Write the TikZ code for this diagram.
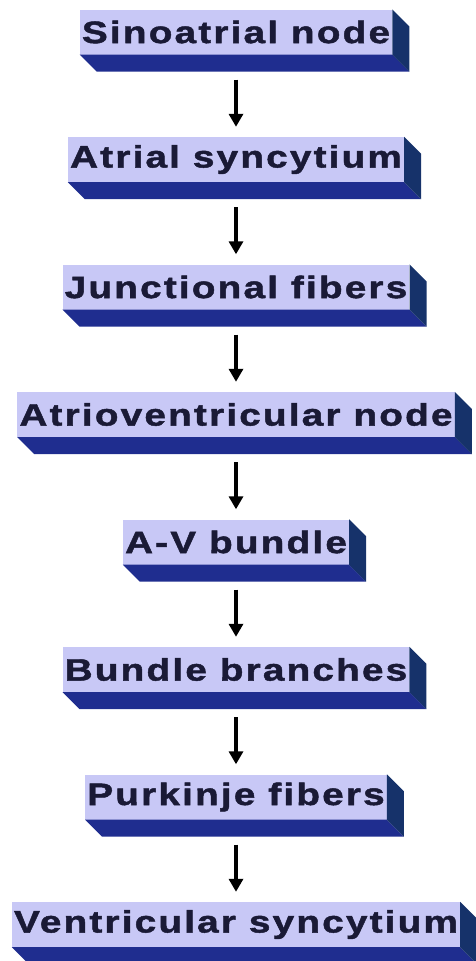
\documentclass[tikz,border=0pt]{standalone}
\usepackage{fontspec}
\setmainfont{Liberation Sans}
\newfontfamily\boxfont[FakeStretch=1.25,LetterSpace=7,FakeBold=1.5]{Liberation Sans Bold}
\usetikzlibrary{arrows.meta,calc}
\definecolor{faceblue}{HTML}{C8C8F6}
\definecolor{floorblue}{HTML}{1F2D8F}
\definecolor{wallblue}{HTML}{16326A}
\definecolor{inkblue}{HTML}{1A1A36}
\begin{document}
		\begin{tikzpicture}[x=1pt, y=-1pt,
			stage/.style={fill=faceblue, text=inkblue, font=\boxfont\fontsize{31}{31}\selectfont,
				minimum height=45pt, inner xsep=2pt, inner ysep=0pt},
			flow/.style={-{Triangle[length=13pt,width=14pt]}, line width=3.8pt, black,
				shorten <=25pt, shorten >=10pt}]
			\useasboundingbox (0,0) rectangle (475,961);
			
			% the stages
			\node[stage] (sa) at (236,32){Sinoatrial node};
			\node[stage] (atr) at (236,159.5){Atrial syncytium};
			\node[stage] (jun) at (236,287){Junctional fibers};
			\node[stage] (av) at (236,414.5){Atrioventricular node};
			\node[stage] (bun) at (236,542){A-V bundle};
			\node[stage] (bra) at (236,669.5){Bundle branches};
			\node[stage] (pur) at (236,797){Purkinje fibers};
			\node[stage] (ven) at (236,924.5){Ventricular syncytium};
			
			% extruded sides
			\foreach \n in {sa, atr, jun, av, bun, bra, pur, ven}{
				\fill[floorblue] (\n.south west) -- ++(17,17) -- ($(\n.south east)+(17,17)$) -- (\n.south east) -- cycle;
				\fill[wallblue] (\n.north east) -- ++(17,17) -- ($(\n.south east)+(17,17)$) -- (\n.south east) -- cycle;
			}
			
			% arrows
			\draw[flow] (sa) -- (atr);
			\draw[flow] (atr) -- (jun);
			\draw[flow] (jun) -- (av);
			\draw[flow] (av) -- (bun);
			\draw[flow] (bun) -- (bra);
			\draw[flow] (bra) -- (pur);
			\draw[flow] (pur) -- (ven);
			
		\end{tikzpicture}
\end{document}
